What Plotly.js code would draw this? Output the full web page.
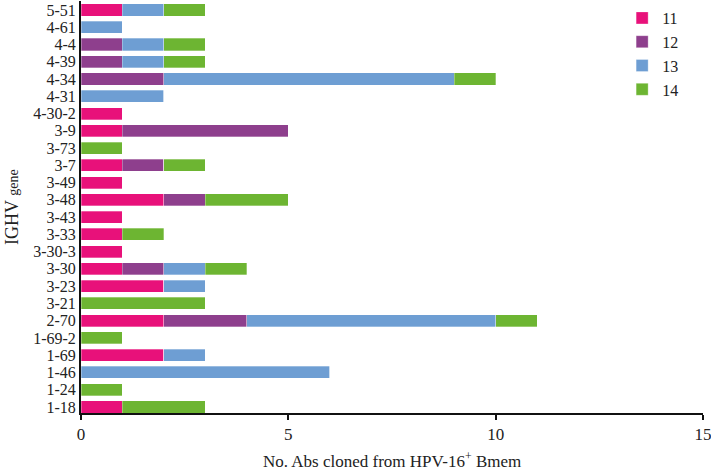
<!DOCTYPE html>
<html>
<head>
<meta charset="utf-8">
<script src="https://cdn.plot.ly/plotly-3.0.1.min.js"></script>
<style>
  body { margin: 0; background: #fff; }
  #chart { width: 711px; height: 472px; }
</style>
</head>
<body>
<div id="chart"></div>
<script>
// IGHV genes, top to bottom
var genes = ['5-51', '4-61', '4-4', '4-39', '4-34', '4-31', '4-30-2', '3-9', '3-73', '3-7',
  '3-49', '3-48', '3-43', '3-33', '3-30-3', '3-30', '3-23', '3-21', '2-70', '1-69-2',
  '1-69', '1-46', '1-24', '1-18'];

// counts per series (same order as genes)
var s11 = [1, 0, 0, 0, 0, 0, 1, 1, 0, 1, 1, 2, 1, 1, 1, 1, 2, 0, 2, 0, 2, 0, 0, 1];
var s12 = [0, 0, 1, 1, 2, 0, 0, 4, 0, 1, 0, 1, 0, 0, 0, 1, 0, 0, 2, 0, 0, 0, 0, 0];
var s13 = [1, 1, 1, 1, 7, 2, 0, 0, 0, 0, 0, 0, 0, 0, 0, 1, 1, 0, 6, 0, 1, 6, 0, 0];
var s14 = [1, 0, 1, 1, 1, 0, 0, 0, 1, 1, 0, 2, 0, 1, 0, 1, 0, 3, 1, 1, 0, 0, 1, 2];

var names = ['11', '12', '13', '14'];
var colors = ['#e8117a', '#8e3f8d', '#6e9ed3', '#6db532'];
var series = [s11, s12, s13, s14];

var data = series.map(function (vals, i) {
  return {
    type: 'bar',
    orientation: 'h',
    y: genes,
    x: vals,
    name: names[i],
    width: 0.7,
    marker: { color: colors[i], line: { color: 'rgba(255,255,255,0.6)', width: 0.5 } },
    hoverinfo: 'x+y+name'
  };
});

var serif = 'Liberation Serif';

var layout = {
  width: 711,
  height: 472,
  barmode: 'stack',
  paper_bgcolor: '#ffffff',
  plot_bgcolor: '#ffffff',
  font: { family: serif, size: 16, color: '#222' },
  margin: { l: 81, r: 8, t: 1, b: 59, pad: 0 },
  showlegend: true,
  legend: {
    x: 0.87, y: 1.0, xanchor: 'left', yanchor: 'top',
    traceorder: 'normal',
    font: { family: serif, size: 16, color: '#222' },
    tracegroupgap: 0,
    bgcolor: 'rgba(0,0,0,0)'
  },
  xaxis: {
    range: [0, 15],
    tick0: 0,
    dtick: 5,
    ticks: 'outside',
    ticklen: 5,
    tickwidth: 2,
    tickcolor: '#111',
    ticklabeloverflow: 'allow',
    automargin: false,
    showline: true,
    linecolor: '#111',
    linewidth: 2,
    showgrid: false,
    zeroline: false,
    tickfont: { family: serif, size: 17 }
  },
  yaxis: {
    range: [23.35, -0.52],
    type: 'category',
    tickmode: 'array',
    tickvals: genes,
    ticktext: genes,
    automargin: false,
    showline: true,
    linecolor: '#111',
    linewidth: 2,
    ticks: '',
    showgrid: false,
    zeroline: false,
    tickfont: { family: serif, size: 16 }
  },
  annotations: [
    {
      text: 'No. Abs cloned from HPV-16<sup>+</sup> Bmem',
      xref: 'paper', yref: 'paper', x: 0.5, y: 0, yshift: -47,
      xanchor: 'center', yanchor: 'middle', showarrow: false,
      font: { family: serif, size: 17, color: '#222' }
    },
    {
      text: 'IGHV <span style="font-size:14px">gene</span>',
      xref: 'paper', yref: 'paper', x: 0, y: 0.5, xshift: -69,
      xanchor: 'center', yanchor: 'middle', showarrow: false, textangle: -90,
      font: { family: serif, size: 18, color: '#222' }
    }
  ]
};

Plotly.newPlot('chart', data, layout, { displayModeBar: false, staticPlot: true });
</script>
</body>
</html>
